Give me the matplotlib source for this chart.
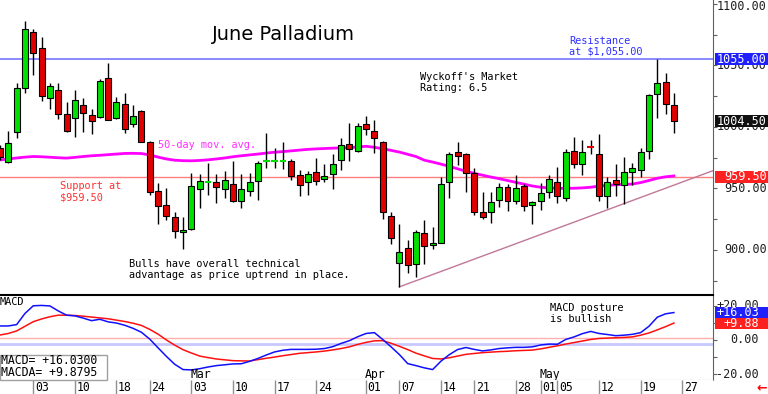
import numpy as np
import pandas as pd
import matplotlib
matplotlib.use('Agg')
import matplotlib.pyplot as plt
import matplotlib.transforms as mtransforms
from matplotlib.patches import Rectangle

# trading days 2025-01-28 .. 2025-05-23 (Presidents day, Good Friday off)
days = pd.bdate_range('2025-01-28', '2025-05-23')
days = days[~days.isin(pd.to_datetime(['2025-02-17', '2025-04-18']))]
idx = np.arange(len(days)) - 4          # 0 = Feb 03

opens = [983, 971.5, 996, 1032, 1077.5, 1064.5, 1023.5, 1030, 1010.5, 1007,
         1017.5, 1010, 1008, 1039.5, 1007, 1019, 1002.5, 1013, 987.5, 948,
         936.5, 927, 914.5, 917, 949.5, 955, 955.5, 949.5, 953.5, 940,
         948, 956, 972, 972.5, 972.5, 972.5, 961, 955, 963, 957.5,
         962, 973.5, 986, 980.5, 1002.5, 997, 988, 928, 889.5, 901.5,
         888.5, 913.5, 904, 906, 955.5, 979.5, 978, 962.5, 931, 930.5,
         941, 951.5, 940, 952, 936.5, 940, 947, 955.5, 942, 980.5,
         970, 983.5, 978, 944, 957, 953, 963.5, 965, 980.5, 1027,
         1036.5, 1018]
highs = [985, 997, 1036, 1086.5, 1080, 1073.5, 1035.5, 1035.5, 1020, 1030,
         1023.5, 1014.5, 1039, 1052, 1024.5, 1027.5, 1018, 1014, 989, 954.5,
         950.5, 930.5, 927, 962.5, 961.5, 970.5, 962, 964, 972, 961.5,
         962.5, 972, 995, 983, 987.5, 974, 965, 964.5, 974.5, 970,
         978, 991, 1003.5, 1003.5, 1009, 1006, 988.5, 931, 921.5, 908,
         916, 924.5, 919, 959, 980, 987.5, 978.5, 967, 947.5, 947.5,
         954.5, 954, 961, 954, 940, 954.5, 961, 967.5, 982.5, 991.5,
         989.5, 989.5, 994, 959, 970, 975.5, 970.5, 983, 1026.5, 1055,
         1043.5, 1027.5]
lows = [973, 970.5, 991, 1028, 1042, 1021.5, 1015, 1006.5, 996, 992,
        996, 994.5, 1007.5, 1005.5, 1006.5, 995, 1000, 988, 944.5, 921,
        924.5, 909.5, 900.5, 916.5, 934, 944.5, 938.5, 942.5, 939, 934,
        944, 941, 967, 967, 966, 956.5, 944, 944.5, 953, 955.5,
        949.5, 965, 972, 980, 993.5, 978.5, 925, 904.5, 870, 881.5,
        878, 888.5, 900.5, 905.5, 942, 969, 947.5, 928.5, 925, 922,
        935, 931.5, 937.5, 931.5, 921.5, 932.5, 942, 938, 940, 966.5,
        961, 978, 940, 934.5, 944, 937, 953, 959, 974, 1007.5,
        1010.5, 995]
closes = [976, 987, 1032, 1080, 1060, 1025.5, 1033.5, 1010.5, 997, 1022,
          1011, 1005, 1037.5, 1006, 1020, 998, 1009, 988, 947.5, 936,
          927.5, 915.5, 916, 952, 956, 955, 951, 956.5, 940, 949.5,
          955, 971, 972, 972.5, 972.5, 960.5, 953, 961.5, 956, 960.5,
          970, 985, 982, 1001, 998, 991, 930.5, 910, 898, 888,
          914.5, 903, 906, 954, 978, 976.5, 962.5, 930.5, 926.5, 939,
          951.5, 940, 950, 936, 939, 946, 957.5, 944, 980, 970,
          979.5, 983, 944, 955.5, 953.5, 963, 967, 979.5, 1026, 1035.5,
          1018.5, 1004.5]
ma50 = [973.2, 974.0, 974.8, 975.5, 976.0, 975.8, 975.4, 975.0, 974.7, 975.3,
        976.0, 976.6, 977.0, 977.5, 978.0, 978.5, 978.6, 978.4, 977.3, 975.5,
        974.0, 973.0, 972.6, 972.5, 972.8, 973.3, 974.0, 974.8, 975.8, 976.6,
        977.3, 978.0, 978.8, 979.5, 980.0, 980.6, 981.2, 981.8, 982.2, 982.5,
        982.8, 983.0, 983.2, 983.8, 984.3, 983.5, 982.3, 981.0, 979.6, 977.8,
        976.0, 973.0, 971.5, 969.8, 968.0, 966.0, 964.0, 962.3, 960.8, 959.3,
        958.0, 956.5, 955.0, 953.5, 952.0, 951.0, 950.5, 950.2, 950.1, 950.2,
        950.5, 951.0, 952.0, 952.5, 953.0, 953.3, 953.6, 954.8, 956.5, 958.3,
        959.5, 960.2]
macd = [8.2, 8.2, 9.0, 15.5, 20.0, 20.2, 19.9, 17.0, 14.5, 14.1,
        12.8, 11.3, 12.1, 10.6, 9.9, 8.6, 6.8, 4.5, 0.5, -4.6,
        -9.6, -14.2, -17.3, -17.5, -16.8, -15.8, -15.0, -14.5, -14.0, -13.9,
        -12.5, -10.8, -8.8, -7.0, -6.0, -5.5, -5.5, -5.5, -5.4, -5.0,
        -3.9, -2.0, -0.4, 1.9, 3.8, 4.3, 0.3, -4.0, -8.5, -13.8,
        -15.0, -16.3, -17.3, -12.4, -8.6, -5.6, -4.4, -5.5, -6.4, -5.8,
        -5.0, -4.6, -4.3, -4.3, -4.0, -2.9, -2.4, -2.5, 0.3, 1.8,
        3.7, 5.0, 3.8, 3.2, 2.5, 2.8, 3.3, 4.3, 8.0, 13.3,
        15.3, 16.03]
signal = [2.9, 3.8, 5.3, 8.0, 10.7, 12.3, 13.6, 14.5, 14.5, 14.3,
          13.9, 13.4, 12.9, 12.4, 11.6, 10.8, 9.8, 8.5, 6.2, 3.4,
          0.0, -3.0, -5.7, -7.6, -9.4, -10.3, -11.1, -11.6, -12.1, -12.2,
          -12.3, -11.5, -10.7, -10.0, -9.2, -8.5, -7.8, -7.4, -7.0, -6.5,
          -5.8, -5.0, -4.0, -2.6, -1.4, -0.5, -0.4, -1.9, -3.7, -5.6,
          -7.7, -9.3, -10.8, -11.1, -10.4, -9.4, -8.4, -7.9, -7.4, -7.1,
          -6.8, -6.6, -6.3, -6.1, -5.9, -5.2, -4.3, -3.4, -2.4, -1.5,
          -0.6, 0.3, 0.9, 1.1, 1.3, 1.5, 1.8, 2.8, 4.1, 5.9,
          7.8, 9.88]

resistance = 1055.00
support = 959.50
last_close = closes[-1]
trend_pts = ([44, 81.7], [870.0, 964.5])

tick_pos = [0, 5, 10, 14, 19, 24, 29, 34, 40, 44, 49, 53, 58, 61, 63, 68, 73, 78]
tick_lab = ['03', '10', '18', '24', '03', '10', '17', '24', '01', '07', '14',
            '21', '28', '01', '05', '12', '19', '27']
months = [(19, 'Mar'), (40, 'Apr'), (61, 'May')]

W, H = 768, 394
mono = 'DejaVu Sans Mono'
fig = plt.figure(figsize=(W / 100, H / 100), dpi=100)
fig.patch.set_facecolor('white')

def fx(x):
    return x / W

def fy(y):
    return 1 - y / H

ax = fig.add_axes([0, fy(295), fx(713), 295 / H])
axm = fig.add_axes([0, fy(380), fx(713), 85 / H])
axd = fig.add_axes([0, 0, fx(713), 14 / H])
for a in (ax, axm, axd):
    a.set_xlim(-4.0, 81.7)
    a.set_xticks([])
    for s in ('top', 'left', 'bottom'):
        a.spines[s].set_visible(False)
    a.spines['right'].set_color('#606060')

# ---- price panel
ax.set_ylim(863.4, 1103.25)
ax.axhline(resistance, color='#8080ff', lw=1.3, zorder=1)
ax.axhline(support, color='#ff8080', lw=1.0, zorder=1)
ax.plot(trend_pts[0], trend_pts[1], color='#c07898', lw=1.0, zorder=1)
ax.plot(idx, ma50, color='#ff00ff', lw=2.0, zorder=2)

o = np.array(opens); c = np.array(closes)
ax.vlines(idx, lows, highs, color='black', lw=1.0, zorder=3)
body = np.abs(c - o) >= 1
cols = np.where(c >= o, '#00e000', '#e00000')
ax.bar(idx[body], np.abs(c - o)[body], bottom=np.minimum(o, c)[body], width=0.72,
       color=cols[body], edgecolor='black', linewidth=0.8, zorder=4)
for i in np.where(~body)[0]:
    ax.hlines(o[i], idx[i] - 0.4, idx[i] + 0.4, color=cols[i], lw=1.5, zorder=4)

ax.yaxis.tick_right()
ax.set_yticks(np.arange(875, 1101, 25))
ax.tick_params(axis='y', which='both', length=3, color='#606060', labelright=False)

blend = mtransforms.blended_transform_factory(fig.transFigure, ax.transData)
for v in [900, 950, 1000, 1050]:
    fig.text(fx(767), v, '%.2f' % v, transform=blend, ha='right', va='center',
             family=mono, fontsize=8.5, color='#202020')
fig.text(fx(767), fy(0), '1100.00', ha='right', va='top', family=mono,
         fontsize=8.5, color='#202020')
ppx = (1103.25 - 863.4) / 295
for v, col in [(resistance, '#2020ff'), (last_close, '#101010'), (support, '#ff2020')]:
    fig.add_artist(Rectangle((fx(715), v - 6 * ppx), fx(53), 12 * ppx, transform=blend,
                             facecolor=col, edgecolor='none', zorder=5))
    fig.text(fx(767), v, '%.2f' % v, transform=blend, ha='right', va='center',
             family=mono, fontsize=8.5, color='white', zorder=6)

# ---- MACD panel
axm.set_ylim(-23.4, 26.3)
axm.spines['top'].set_visible(True)
axm.spines['top'].set_color('black')
axm.spines['top'].set_linewidth(1.5)
axm.spines['bottom'].set_visible(True)
axm.spines['bottom'].set_color('#a0a0a0')
axm.axhline(1.0, color='#ffb0b0', lw=1.0, zorder=1)
axm.axhline(-2.5, color='#c8c8ff', lw=2.0, zorder=1)
axm.plot(idx, signal, color='#ff1010', lw=1.1, zorder=3)
axm.plot(idx, macd, color='#1010ff', lw=1.1, zorder=3)
axm.yaxis.tick_right()
axm.set_yticks([-20, -10, 0, 10, 20])
axm.tick_params(axis='y', length=3, color='#606060', labelright=False)
blm = mtransforms.blended_transform_factory(fig.transFigure, axm.transData)
for v, s in [(20, '+20.00'), (0, '0.00'), (-20, '-20.00')]:
    fig.text(fx(759), v, s, transform=blm, ha='right', va='center',
             family=mono, fontsize=8.5, color='#202020')
mpx = (26.3 + 23.4) / 85
for v, col, ctr in [(macd[-1], '#2020ff', macd[-1]), (signal[-1], '#ff2020', macd[-1] - 11 * mpx)]:
    fig.add_artist(Rectangle((fx(715), ctr - 5.5 * mpx), fx(53), 11 * mpx, transform=blm,
                             facecolor=col, edgecolor='none', zorder=5))
    fig.text(fx(759), ctr, '%+.2f' % v, transform=blm, ha='right', va='center',
             family=mono, fontsize=8.5, color='white', zorder=6)
for i, m in months:
    axm.text(i - 0.15, 0.07, m, transform=axm.get_xaxis_transform(), ha='left',
             va='center', family=mono, fontsize=8.3, color='black')

# ---- date strip
axd.set_ylim(0, 1)
axd.set_yticks([])
axd.spines['right'].set_visible(False)
axd.vlines(tick_pos, 0, 1, color='#909090', lw=1.0)
for p, s in zip(tick_pos, tick_lab):
    axd.text(p + 0.2, 0.45, s, ha='left', va='center', family=mono, fontsize=8.3)
fig.text(fx(762), fy(388), '\u2190', color='red', fontsize=9, weight='bold',
         ha='center', va='center')

# ---- annotations
fig.text(fx(283), fy(35), 'June Palladium', fontsize=14, ha='center', va='center')

def note(x, y, lines, color='black', size=7.4):
    for k, s in enumerate(lines):
        fig.text(fx(x), fy(y + 11 * k), s, color=color, fontsize=size, family=mono,
                 ha='left', va='center')

note(569, 41, ['Resistance', 'at $1,055.00'], color='#3030ff')
note(420, 77, ["Wyckoff's Market", 'Rating: 6.5'])
note(158, 145, ['50-day mov. avg.'], color='#ff30ff')
note(60, 186, ['Support at', '$959.50'], color='#ff3030')
note(129, 264, ['Bulls have overall technical',
                'advantage as price uptrend in place.'])
note(550, 308, ['MACD posture', 'is bullish'])
note(0, 302, ['MACD'])

fig.add_artist(Rectangle((0, fy(380)), fx(107), 25 / H, transform=fig.transFigure,
                         facecolor='white', edgecolor='#a0a0a0', lw=1, zorder=4))
fig.text(fx(1), fy(361), 'MACD= %+.4f' % 16.03, family=mono, fontsize=8.3,
         va='center', zorder=5)
fig.text(fx(1), fy(372), 'MACDA= %+.4f' % 9.8795, family=mono, fontsize=8.3,
         va='center', zorder=5)

fig.savefig('out.png', dpi=100)
